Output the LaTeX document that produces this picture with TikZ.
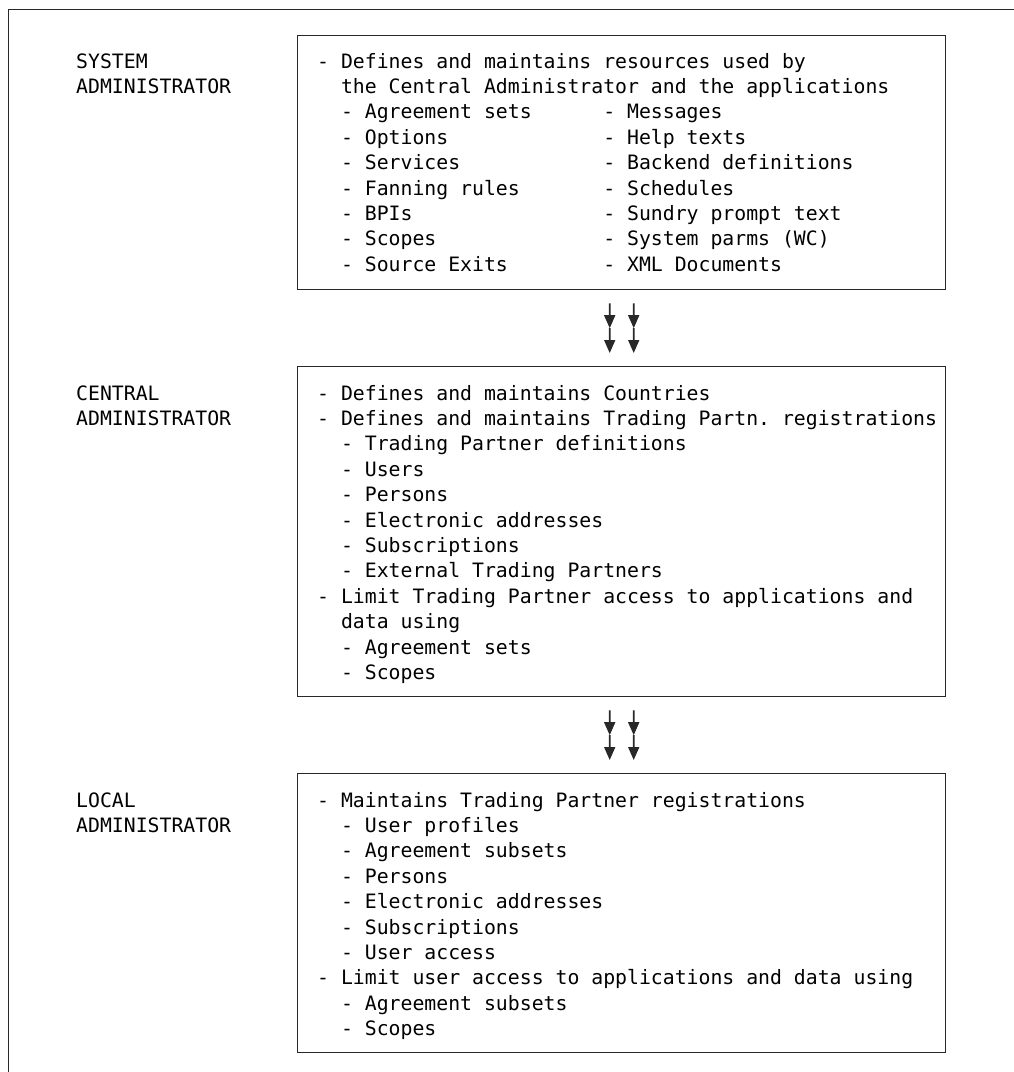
\documentclass[tikz,border=0pt]{standalone}
\usepackage{fontspec}
\setmonofont{DejaVu Sans Mono}
\usepackage{tikz}
\usetikzlibrary{arrows.meta,positioning,calc}
\definecolor{lgray}{RGB}{40,40,40}
% two-character indent and the second column of the list
\newcommand{\ind}{\hspace*{1.204em}}
\newcommand{\col}[1]{\makebox[14.448em][l]{#1}}
\tikzset{
  frame/.style ={draw=lgray, line width=1.4pt},
  box/.style   ={rectangle, draw=lgray, line width=1.4pt, anchor=north west,
                 minimum width=648pt, inner sep=0pt},
  txt/.style   ={anchor=base west, inner sep=0pt, text=black,
                 font=\fontsize{19.8}{25.4}\selectfont\ttfamily},
  dn/.style    ={-{Triangle[length=13pt,width=11pt]}, draw=lgray, fill=black,
                 line width=1.6pt}
}
\begin{document}
\begin{tikzpicture}[x=1pt,y=-1pt]
\useasboundingbox (0,0) rectangle (1014,1072);
\draw[frame] (1014,9.5) -- (8.5,9.5) -- (8.5,1072);

% roles
\node[txt] (sysl) at (76,68)  {\begin{tabular}[t]{@{}l@{}}SYSTEM\\ADMINISTRATOR\end{tabular}};
\node[txt] (cenl) at (76,400) {\begin{tabular}[t]{@{}l@{}}CENTRAL\\ADMINISTRATOR\end{tabular}};
\node[txt] (locl) at (76,807) {\begin{tabular}[t]{@{}l@{}}LOCAL\\ADMINISTRATOR\end{tabular}};

% boxes
\node[box, minimum height=254pt] (sysbox) at (297,35) {};
\node[box, minimum height=330pt] (cenbox) at (297,366) {};
\node[box, minimum height=279pt] (locbox) at (297,773) {};

\node[txt] (syst) at (317,68) {\begin{tabular}[t]{@{}l@{}}
- Defines and maintains resources used by\\
\ind the Central Administrator and the applications\\
\col{\ind - Agreement sets}- Messages\\
\col{\ind - Options}- Help texts\\
\col{\ind - Services}- Backend definitions\\
\col{\ind - Fanning rules}- Schedules\\
\col{\ind - BPIs}- Sundry prompt text\\
\col{\ind - Scopes}- System parms (WC)\\
\col{\ind - Source Exits}- XML Documents
\end{tabular}};

\node[txt] (cent) at (317,400) {\begin{tabular}[t]{@{}l@{}}
- Defines and maintains Countries\\
- Defines and maintains Trading Partn. registrations\\
\ind - Trading Partner definitions\\
\ind - Users\\
\ind - Persons\\
\ind - Electronic addresses\\
\ind - Subscriptions\\
\ind - External Trading Partners\\
- Limit Trading Partner access to applications and\\
\ind data using\\
\ind - Agreement sets\\
\ind - Scopes
\end{tabular}};

\node[txt] (loct) at (317,807) {\begin{tabular}[t]{@{}l@{}}
- Maintains Trading Partner registrations\\
\ind - User profiles\\
\ind - Agreement subsets\\
\ind - Persons\\
\ind - Electronic addresses\\
\ind - Subscriptions\\
\ind - User access\\
- Limit user access to applications and data using\\
\ind - Agreement subsets\\
\ind - Scopes
\end{tabular}};

% double-headed flows between the levels
\foreach \a/\b in {sysbox/cenbox, cenbox/locbox}
  \foreach \d in {-12,12}{
    \coordinate (top) at ([xshift=\d pt, yshift=-13pt]\a.south);
    \coordinate (bot) at ([xshift=\d pt, yshift=13pt]\b.north);
    \draw[dn] (top) -- ($(top)!0.5!(bot)$);
    \draw[dn] ($(top)!0.5!(bot)$) -- (bot);
  }
\end{tikzpicture}
\end{document}
